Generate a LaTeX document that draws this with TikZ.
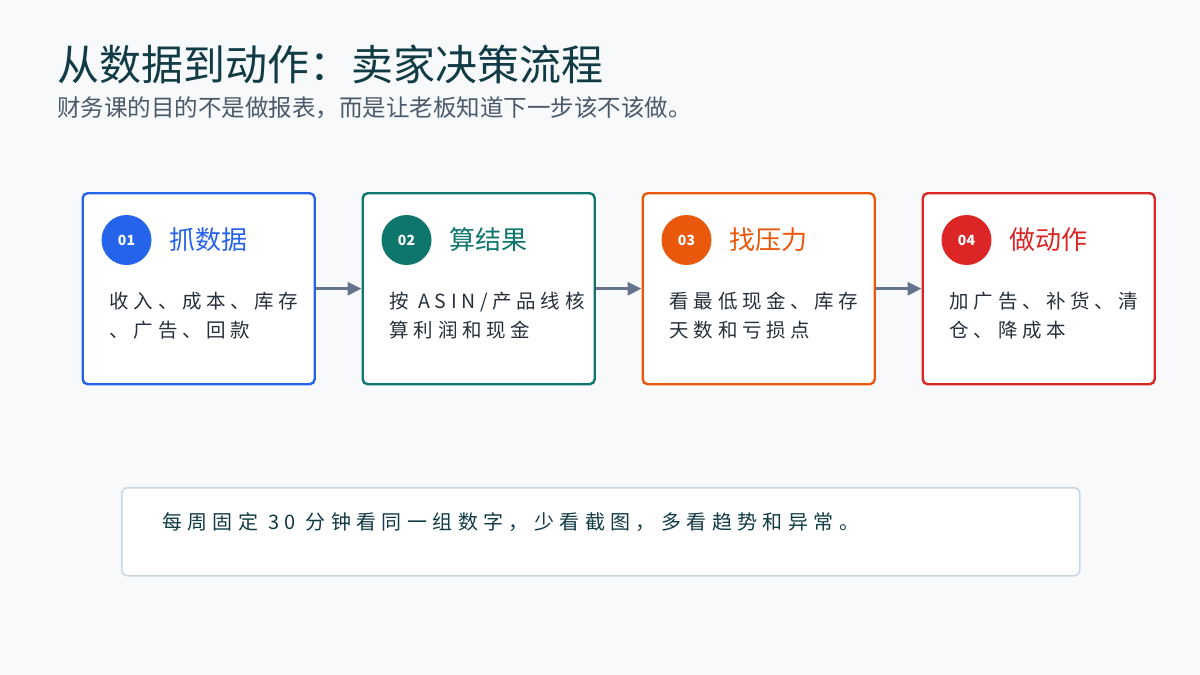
\documentclass[tikz,border=0pt]{standalone}
\usepackage{fontspec}
\setmainfont{Noto Sans CJK SC}
\newfontfamily\cjkspaced[LetterSpace=24]{Noto Sans CJK SC}
\newfontfamily\cjkwide[LetterSpace=27]{Noto Sans CJK SC}
\usepackage{tikz}
\usetikzlibrary{arrows.meta, positioning, calc}

\definecolor{pagebg}{HTML}{F7F9FB}
\definecolor{titleink}{HTML}{113B45}
\definecolor{subink}{HTML}{4B5A6A}
\definecolor{bodyink}{HTML}{27303A}
\definecolor{flowblue}{HTML}{2563EB}
\definecolor{flowteal}{HTML}{0F766E}
\definecolor{floworange}{HTML}{EA580C}
\definecolor{flowred}{HTML}{DC2626}
\definecolor{arrowgray}{HTML}{64748B}
\definecolor{noteline}{HTML}{CBD5E1}

\begin{document}
\begin{tikzpicture}[
    x=1pt, y=-1pt,
    node distance=45.6pt,
    card/.style={draw, line width=2.4pt, rounded corners=5pt, fill=white, minimum width=232pt, minimum height=191pt, inner sep=0pt},
    badge/.style={circle, fill=#1, minimum size=50pt, inner sep=0pt, text=white, font=\fontsize{14}{14}\selectfont\bfseries},
    heading/.style={anchor=west, text=#1, font=\fontsize{26}{26}\selectfont},
    body/.style={anchor=north west, align=left, text=bodyink, inner sep=0pt, font=\cjkspaced\fontsize{19.5}{29}\selectfont},
    arrow/.style={-{Triangle[length=14pt, width=13pt]}, line width=3pt, draw=arrowgray}
]

% page
\fill[pagebg] (0,0) rectangle (1200,675);
\useasboundingbox (0,0) rectangle (1200,675);

% title and subtitle
\node[anchor=base west, inner sep=0pt, text=titleink, font=\fontsize{42}{42}\selectfont] (title) at (57,80) {从数据到动作：卖家决策流程};
\node[anchor=base west, inner sep=0pt, text=subink, font=\fontsize{23.5}{23.5}\selectfont] (subtitle) at (57,116) {财务课的目的不是做报表，而是让老板知道下一步该不该做。};

% step cards
\node[card, draw=flowblue, anchor=north west] (grab) at (81.5,192) {};
\node[card, draw=flowteal, right=of grab] (calc) {};
\node[card, draw=floworange, right=of calc] (press) {};
\node[card, draw=flowred, right=of press] (act) {};

% badges
\node[badge=flowblue] (grabno) at ($(grab.north west)+(45,48)$) {01};
\node[badge=flowteal] (calcno) at ($(calc.north west)+(45,48)$) {02};
\node[badge=floworange] (pressno) at ($(press.north west)+(45,48)$) {03};
\node[badge=flowred] (actno) at ($(act.north west)+(45,48)$) {04};

% headings
\node[heading=flowblue, right=14pt of grabno] (grabhead) {抓数据};
\node[heading=flowteal, right=14pt of calcno] (calchead) {算结果};
\node[heading=floworange, right=14pt of pressno] (presshead) {找压力};
\node[heading=flowred, right=14pt of actno] (acthead) {做动作};

% card texts
\node[body] (grabtext) at ($(grab.north west)+(28,100)$) {收入、成本、库存\\、广告、回款};
\node[body] (calctext) at ($(calc.north west)+(28,100)$) {按 ASIN/产品线核\\算利润和现金};
\node[body] (presstext) at ($(press.north west)+(28,100)$) {看最低现金、库存\\天数和亏损点};
\node[body] (acttext) at ($(act.north west)+(28,100)$) {加广告、补货、清\\仓、降成本};

% arrows
\draw[arrow] (grab) -- (calc);
\draw[arrow] (calc) -- (press);
\draw[arrow] (press) -- (act);

% weekly note
\node[draw=noteline, line width=1.5pt, rounded corners=6pt, fill=white, anchor=north west, minimum width=958pt, minimum height=88pt] (note) at (121,487) {};
\node[anchor=west, inner sep=0pt, text=titleink, font=\cjkwide\fontsize{20}{20}\selectfont] (notetext) at (162,522) {每周固定 30 分钟看同一组数字，少看截图，多看趋势和异常。};

\end{tikzpicture}
\end{document}
